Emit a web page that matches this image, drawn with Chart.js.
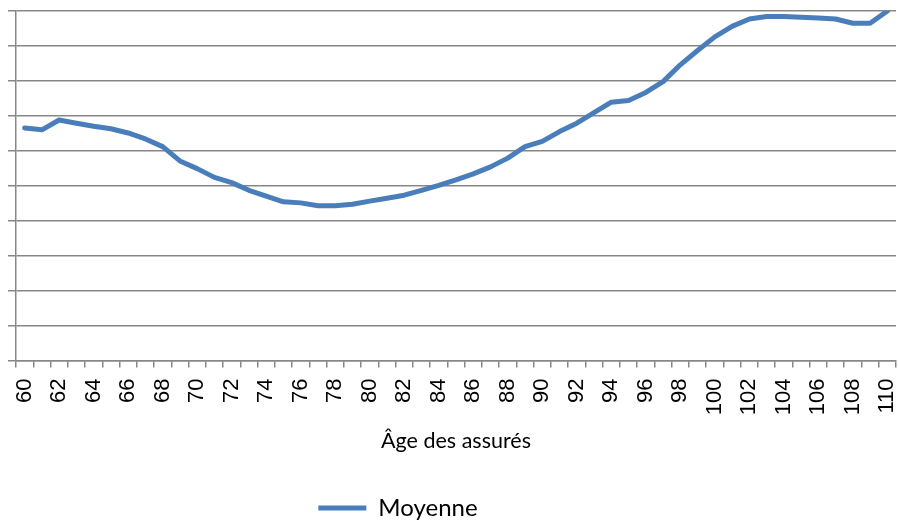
<!DOCTYPE html>
<html lang="fr">
<head>
<meta charset="utf-8">
<title>Moyenne par âge des assurés</title>
<script src="https://cdn.jsdelivr.net/npm/chart.js@4/dist/chart.umd.min.js"></script>
<style>
  html, body { margin: 0; padding: 0; background: #ffffff; }
  #wrap { width: 899px; height: 524px; position: relative; }
</style>
</head>
<body>
<div id="wrap"><canvas id="chart"></canvas></div>
<script>
// Ages on the category axis
const ages = [];
for (let a = 60; a <= 110; a++) ages.push(String(a));

// Average value per age
const moyenne = [
  66.5, 66.0, 68.8, 67.9, 67.0, 66.3, 65.1, 63.4, 61.2, 57.1,
  54.9, 52.4, 50.9, 48.7, 47.0, 45.4, 45.1, 44.3, 44.3, 44.7,
  45.6, 46.4, 47.3, 48.7, 50.1, 51.7, 53.4, 55.4, 57.9, 61.2,
  62.7, 65.5, 67.9, 70.9, 73.9, 74.4, 76.7, 79.8, 84.6, 88.7,
  92.6, 95.6, 97.7, 98.4, 98.4, 98.2, 98.0, 97.7, 96.5, 96.5,
  100.0
];

const seriesName = 'Moyenne';
const axisTitle = 'Âge des assurés';

const gridColor = '#878787';
const lineColor = '#4a7ebb';

// Moves the legend after layout
const legendShift = {
  id: 'legendShift',
  afterLayout(chart, args, opts) {
    const lg = chart.legend;
    if (lg) {
      lg.left += opts.dx;
      lg.right += opts.dx;
      lg.top += opts.dy;
      lg.bottom += opts.dy;
    }
  }
};

new Chart(document.getElementById('chart'), {
  type: 'line',
  data: {
    labels: ages,
    datasets: [{
      label: seriesName,
      data: moyenne,
      borderColor: lineColor,
      backgroundColor: lineColor,
      borderWidth: 5,
      borderCapStyle: 'round',
      borderJoinStyle: 'round',
      pointRadius: 0,
      pointHoverRadius: 0,
      tension: 0,
      fill: false
    }]
  },
  options: {
    responsive: true,
    maintainAspectRatio: false,
    animation: false,
    events: [],
    layout: { padding: { left: 8, right: 3, top: 11, bottom: 0 } },
    scales: {
      x: {
        type: 'category',
        offset: true,
        afterFit(scale) {
          // rotated labels sit inside the category bands, no side padding needed
          scale.paddingLeft = 0;
          scale.paddingRight = 0;
        },
        grid: {
          display: true,
          offset: true,
          drawOnChartArea: false,
          drawTicks: true,
          tickLength: 7,
          color: gridColor,
          lineWidth: 1.5
        },
        border: { display: true, color: gridColor, width: 1.5 },
        ticks: {
          autoSkip: false,
          minRotation: 90,
          maxRotation: 90,
          padding: 11,
          color: '#000000',
          font: { family: '"Liberation Sans", Arial, sans-serif', size: 22 },
          callback(value, index) {
            const lab = this.getLabelForValue(value);
            return Number(lab) % 2 === 0 ? lab : '';
          }
        },
        title: {
          display: true,
          text: axisTitle,
          color: '#000000',
          font: { family: 'Lato, "Open Sans", sans-serif', size: 21.5 },
          padding: { top: 2, bottom: 32 }
        }
      },
      y: {
        min: 0,
        max: 100,
        grid: {
          display: true,
          drawTicks: true,
          tickLength: 8,
          color: gridColor,
          lineWidth: 1.5
        },
        border: { display: true, color: gridColor, width: 1.5 },
        ticks: { display: false, stepSize: 10 }
      }
    },
    plugins: {
      legend: {
        display: true,
        position: 'bottom',
        labels: {
          usePointStyle: true,
          pointStyle: 'line',
          pointStyleWidth: 48,
          color: '#000000',
          padding: 4,
          font: { family: 'Lato, "Open Sans", sans-serif', size: 24 }
        }
      },
      legendShift: { dx: -54, dy: 6 },
      tooltip: { enabled: false }
    }
  },
  plugins: [legendShift]
});
</script>
</body>
</html>
